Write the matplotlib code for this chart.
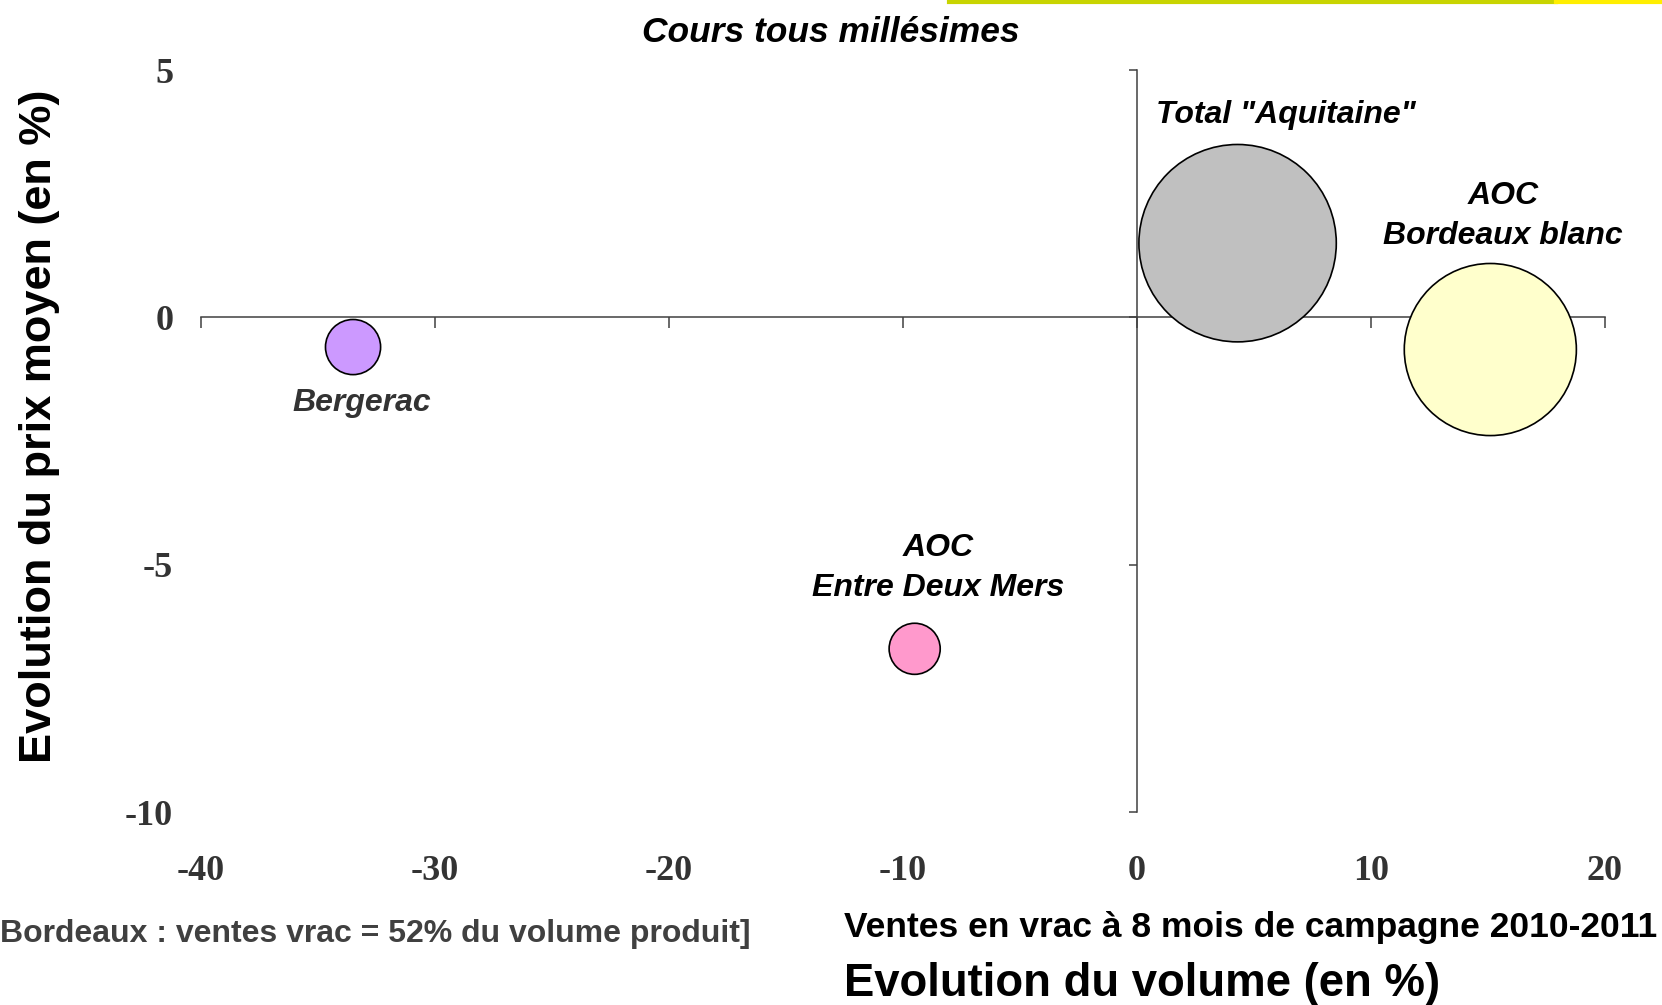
import matplotlib.pyplot as plt
from matplotlib.lines import Line2D

# data
names = ['Bergerac', 'AOC\nEntre Deux Mers', 'Total "Aquitaine"', 'AOC\nBordeaux blanc']
vol_change = [-33.5, -9.5, 4.3, 15.1]      # Evolution du volume (en %)
price_change = [-0.6, -6.7, 1.5, -0.65]    # Evolution du prix moyen (en %)
bubble_values = [0.078, 0.067, 1.0, 0.76]  # relative volume (bubble area)
colors = ['#CC99FF', '#FF99CC', '#C0C0C0', '#FFFFCC']
label_offsets = [(6, -40), (17, 58), (35, 92), (9, 96)]

x_ticks = [-40, -30, -20, -10, 0, 10, 20]
y_ticks = [-10, -5, 0, 5]

sans = 'Liberation Sans'
serif = 'Liberation Serif'
axis_col = '#404040'
tick_col = '#333333'

plt.rcParams['axes.unicode_minus'] = False

fig = plt.figure(figsize=(16.62, 10.05), dpi=100)
ax = fig.add_axes([0.1209, 0.192, 0.8448, 0.7383])
ax.set_xlim(-40, 20)
ax.set_ylim(-10, 5)

# axes cross at zero
for s in ['top', 'right']:
    ax.spines[s].set_visible(False)
ax.spines['bottom'].set_position(('data', 0))
ax.spines['left'].set_position(('data', 0))
for s in ['bottom', 'left']:
    ax.spines[s].set_color(axis_col)
    ax.spines[s].set_linewidth(1.1)
ax.set_xticks(x_ticks)
ax.set_yticks(y_ticks)
ax.tick_params(axis='x', direction='out', length=8, width=1.1, color=axis_col,
               labelbottom=False)
ax.tick_params(axis='y', direction='out', length=6, width=1.1, color=axis_col,
               labelleft=False)

# tick labels sit at the low / left edge of the plot
tick_font = dict(fontfamily=serif, fontweight='bold', fontsize=26, color=tick_col)
secx = ax.secondary_xaxis('bottom')
secx.set_xticks(x_ticks, labels=[str(v) for v in x_ticks], **tick_font)
secx.spines['bottom'].set_visible(False)
secx.tick_params(length=0, pad=31)
secy = ax.secondary_yaxis('left')
secy.set_yticks(y_ticks, labels=[str(v) for v in y_ticks], **tick_font)
secy.spines['left'].set_visible(False)
secy.tick_params(length=0, pad=20)

s_max = 20200
sizes = [v * s_max for v in bubble_values]
ax.scatter(vol_change, price_change, s=sizes, c=colors, edgecolors='black',
           linewidths=1.2, zorder=3, clip_on=False)

for name, x, y, off in zip(names, vol_change, price_change, label_offsets):
    ax.annotate(name, (x, y), xytext=off, textcoords='offset points',
                ha='center', va='center', fontsize=23, fontweight='bold',
                fontstyle='italic', family=sans, linespacing=1.42,
                color='#333333' if name == 'Bergerac' else 'black')

fig.text(0.5, 0.968, 'Cours tous millésimes', ha='center', va='center',
         fontsize=25.5, fontweight='bold', fontstyle='italic', family=sans)
fig.text(0.024, 0.576, 'Evolution du prix moyen (en %)', rotation=90,
         ha='center', va='center', fontsize=32.5, fontweight='bold', family=sans)
fig.text(0.0, 0.0706, 'Bordeaux : ventes vrac = 52% du volume produit]',
         ha='left', va='center', fontsize=23, fontweight='bold', family=sans,
         color='#404040')
fig.text(0.508, 0.0776, 'Ventes en vrac à 8 mois de campagne 2010-2011',
         ha='left', va='center', fontsize=25.5, fontweight='bold', family=sans)
fig.text(0.508, 0.021, 'Evolution du volume (en %)', ha='left', va='center',
         fontsize=32.8, fontweight='bold', family=sans)

# decorative band at the top right
fig.add_artist(Line2D([0.571, 0.936], [0.998, 0.998], color='#C8D400', lw=3,
                      transform=fig.transFigure))
fig.add_artist(Line2D([0.936, 1.0], [0.998, 0.998], color='#FFEE00', lw=3,
                      transform=fig.transFigure))

fig.savefig('out.png', dpi=100)
